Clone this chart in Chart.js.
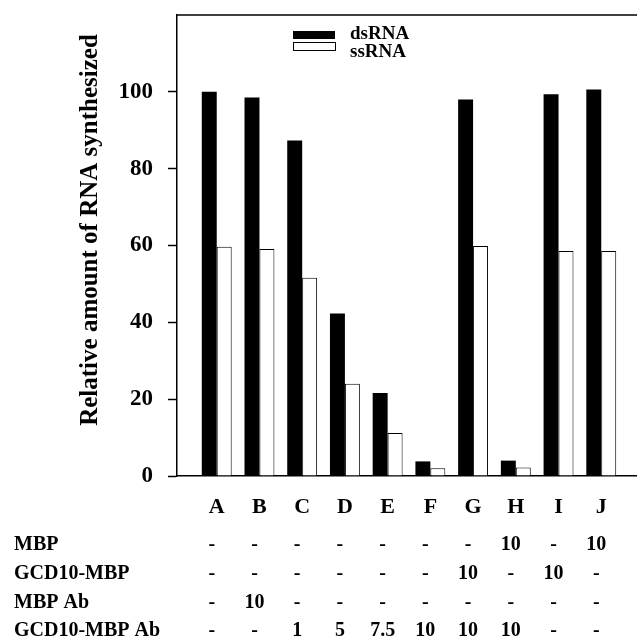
<!DOCTYPE html>
<html>
<head>
<meta charset="utf-8">
<script src="https://cdn.jsdelivr.net/npm/chart.js@4.4.0/dist/chart.umd.min.js"></script>
<style>
html, body { margin: 0; padding: 0; overflow: hidden; background: #fff; }
#wrap { width: 642px; height: 644px; }
</style>
</head>
<body>
<div id="wrap"><canvas id="graph"></canvas></div>
<script>
var lanes = ['A', 'B', 'C', 'D', 'E', 'F', 'G', 'H', 'I', 'J'];
var ds_rna = [100, 98.5, 87.3, 42.3, 21.6, 3.8, 98, 4, 99.4, 100.6];
var ss_rna = [59.7, 59.1, 51.6, 24, 11.2, 2, 59.9, 2.2, 58.6, 58.6];

var row_labels = ['MBP', 'GCD10-MBP', 'MBP Ab', 'GCD10-MBP Ab'];
var mbp = ['-', '-', '-', '-', '-', '-', '-', '10', '-', '10'];
var gcd10_mbp = ['-', '-', '-', '-', '-', '-', '10', '-', '10', '-'];
var mbp_ab = ['-', '10', '-', '-', '-', '-', '-', '-', '-', '-'];
var gcd10_mbp_ab = ['-', '-', '1', '5', '7.5', '10', '10', '10', '-', '-'];
var table_rows = [mbp, gcd10_mbp, mbp_ab, gcd10_mbp_ab];

var serif = '"Liberation Serif", "Times New Roman", serif';

function points(values){
    return values.map(function(v, i){ return {x: i, y: v}; });
}

// frame top, y title, legend and the table under the axis
var extras = {
    id: 'extras',
    afterDraw: function(chart){
        var ctx = chart.ctx;
        var area = chart.chartArea;
        var xs = chart.scales.x;
        ctx.save();
        ctx.strokeStyle = '#000';
        ctx.fillStyle = '#000';
        ctx.lineWidth = 1.5;
        ctx.beginPath();
        ctx.moveTo(area.left, area.top);
        ctx.lineTo(area.right, area.top);
        ctx.stroke();

        ctx.save();
        ctx.translate(91, 230);
        ctx.rotate(-Math.PI / 2);
        ctx.font = 'bold 25px ' + serif;
        ctx.textAlign = 'center';
        ctx.textBaseline = 'middle';
        ctx.fillText('Relative amount of RNA synthesized', 0, 0);
        ctx.restore();

        // legend
        var sets = chart.data.datasets;
        ctx.font = 'bold 19px ' + serif;
        ctx.textAlign = 'left';
        ctx.textBaseline = 'middle';
        ctx.fillRect(area.left + 116, area.top + 16, 42, 8);
        ctx.fillText(sets[0].label, area.left + 173, area.top + 19);
        ctx.lineWidth = 1;
        ctx.strokeRect(area.left + 116.5, area.top + 27.5, 42, 8);
        ctx.fillText(sets[1].label, area.left + 173, area.top + 37);

        // treatment table
        ctx.font = 'bold 20px ' + serif;
        var row_y = [545, 574, 603, 631];
        row_labels.forEach(function(label, r){
            ctx.textAlign = 'left';
            ctx.fillText(label, 14, row_y[r]);
            ctx.textAlign = 'center';
            table_rows[r].forEach(function(v, i){
                ctx.fillText(v, xs.getPixelForValue(i) - 5, row_y[r]);
            });
        });
        ctx.restore();
    }
};

var chart_context = document.getElementById('graph').getContext('2d');
var chart = new Chart(chart_context, {
    type: 'bar',
    data: {
        datasets: [{
            label: 'dsRNA',
            data: points(ds_rna),
            backgroundColor: '#000',
            borderWidth: 0
        }, {
            label: 'ssRNA',
            data: points(ss_rna),
            backgroundColor: '#fff',
            borderColor: '#000',
            borderWidth: 1
        }]
    },
    options: {
        responsive: true,
        maintainAspectRatio: false,
        animation: false,
        layout: {padding: {top: 15, right: 1, left: 0, bottom: 0}},
        datasets: {bar: {categoryPercentage: 0.7, barPercentage: 1}},
        plugins: {legend: {display: false}, tooltip: {enabled: false}},
        scales: {
            x: {
                type: 'linear',
                offset: false,
                min: -0.93,
                max: 9.93,
                afterBuildTicks: function(axis){
                    axis.ticks = lanes.map(function(_, i){ return {value: i}; });
                },
                afterFit: function(axis){
                    axis.height = 168;
                    axis.paddingLeft = 0;
                    axis.paddingRight = 0;
                },
                grid: {display: false},
                border: {display: true, color: '#000', width: 1.5},
                ticks: {
                    padding: 10,
                    color: '#000',
                    font: {family: serif, size: 22, weight: 'bold'},
                    callback: function(value){ return lanes[value]; }
                }
            },
            y: {
                min: 0,
                max: 120,
                afterFit: function(axis){
                    axis.width = 177;
                    axis.paddingTop = 0;
                    axis.paddingBottom = 0;
                },
                grid: {
                    drawOnChartArea: false,
                    tickLength: 9,
                    tickWidth: 1.5,
                    color: function(c){ return c.tick && c.tick.value === 120 ? 'rgba(0,0,0,0)' : '#000'; }
                },
                border: {display: true, color: '#000', width: 1.5},
                ticks: {
                    stepSize: 20,
                    padding: 15,
                    color: '#000',
                    font: {family: serif, size: 23, weight: 'bold'},
                    callback: function(value){ return value === 120 ? '' : value; }
                }
            }
        }
    },
    plugins: [extras]
});
</script>
</body>
</html>
